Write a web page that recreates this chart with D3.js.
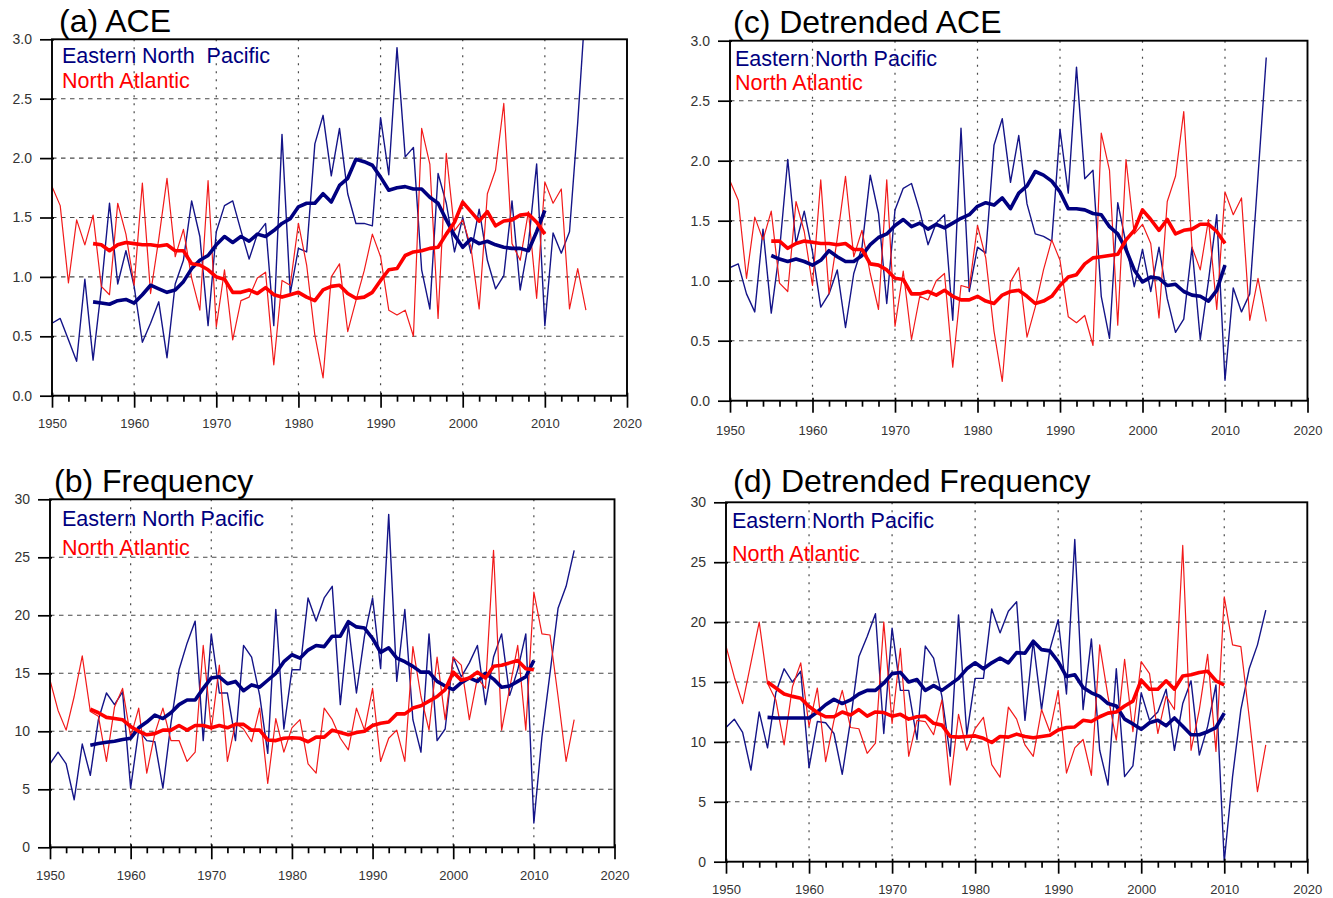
<!DOCTYPE html>
<html><head><meta charset="utf-8">
<script src="https://cdn.jsdelivr.net/npm/d3@7"></script>
<style>
body{margin:0;background:#fff;}
svg{display:block;font-family:"Liberation Sans",Arial,Helvetica,sans-serif;}
</style></head><body>
<svg id="chart" width="1333" height="898"></svg>
<script>
// ---------------- data ----------------
const years = d3.range(1950, 2016);          // annual series 1950-2015
const smoothYears = d3.range(1955, 2011);    // running mean 1955-2010
const xTickYears = [1950, 1960, 1970, 1980, 1990, 2000, 2010, 2020];
const xMinorYears = d3.range(1950, 2021, 2).filter(d => d % 10 !== 0);
const aceTicks = [0, 0.5, 1.0, 1.5, 2.0, 2.5, 3.0];
const freqTicks = [0, 5, 10, 15, 20, 25, 30];
const seriesNames = ["Eastern North Pacific", "North Atlantic"];

// (a) ACE
const aceEnp = [0.61,0.65,0.47,0.29,0.98, 0.30,0.90,1.62,0.94,1.22, 0.92,0.45,0.61,0.79,0.32, 0.94,1.14,1.64,1.34,0.59,
  1.38,1.60,1.64,1.39,1.15, 1.36,1.45,0.59,2.20,0.86, 1.24,1.21,2.12,2.36,1.85, 2.25,1.70,1.45,1.45,1.43,
  2.34,1.86,2.93,2.01,2.09, 1.06,0.73,1.87,1.62,1.21, 1.50,1.20,1.57,1.14,0.90, 1.01,1.64,0.89,1.28,1.95,
  0.59,1.37,1.20,1.38,2.30, 3.35];
const aceEnpSmooth = [0.79,0.78,0.77,0.80,0.81, 0.78,0.85,0.93,0.90,0.87, 0.89,0.96,1.07,1.14,1.18,
  1.27,1.34,1.29,1.34,1.30, 1.36,1.34,1.39,1.45,1.49, 1.59,1.62,1.62,1.70,1.63,
  1.77,1.83,1.99,1.97,1.94, 1.84,1.73,1.75,1.76,1.74, 1.74,1.67,1.62,1.48,1.35,
  1.25,1.32,1.28,1.30,1.27, 1.25,1.24,1.24,1.22,1.38, 1.56];
const aceNa = [1.76,1.60,0.95,1.48,1.27, 1.52,0.92,0.85,1.62,1.36, 0.93,1.79,0.86,1.32,1.83, 1.17,1.40,0.99,0.72,1.81,
  0.58,1.06,0.47,0.80,0.83, 0.99,1.04,0.26,0.97,0.93, 1.45,1.10,0.51,0.15,1.00, 1.11,0.54,0.80,1.05,1.36,
  1.17,0.72,0.68,0.72,0.50, 2.25,1.95,0.65,2.04,1.39, 1.48,1.25,0.73,1.70,1.90, 2.46,1.28,1.14,1.55,0.82,
  1.80,1.62,1.74,0.73,1.07, 0.72];
const aceNaSmooth = [1.28,1.27,1.22,1.27,1.29, 1.28,1.27,1.27,1.26,1.27, 1.22,1.22,1.11,1.10,1.06,
  1.00,0.98,0.87,0.87,0.89, 0.86,0.91,0.85,0.83,0.85, 0.87,0.83,0.80,0.89,0.92,
  0.93,0.86,0.82,0.83,0.87, 0.97,1.06,1.07,1.18,1.21, 1.22,1.24,1.25,1.36,1.46,
  1.63,1.55,1.47,1.55,1.43, 1.47,1.48,1.52,1.53,1.46, 1.36];

// (b) Frequency
const freqEnp = [7.2,8.2,7.2,4.1,8.9, 6.2,11.0,13.3,12.3,13.4, 5.1,10.1,9.2,9.1,5.1, 10.7,15.3,17.6,19.5,9.2,
  18.4,13.3,13.3,9.2,17.4, 16.4,13.1,8.1,20.5,10.2, 15.3,15.3,21.5,19.5,21.5, 22.5,12.3,19.2,13.3,18.2,
  21.5,15.4,28.7,14.3,20.5, 11.0,8.2,18.4,9.2,10.2, 16.4,14.7,15.9,17.4,12.3, 16.4,18.4,13.1,15.3,18.4,
  2.1,9.5,15.0,20.6,22.5, 25.6];
const freqEnpSmooth = [8.8,8.95,9.05,9.15,9.3, 9.4,10.3,10.8,11.4,11.1, 11.6,12.3,12.7,12.7,13.7,
  14.6,14.7,14.1,14.3,13.5, 14.0,13.8,14.4,15.0,16.0, 16.6,16.3,17.0,17.4,17.3,
  18.2,18.2,19.45,19.0,18.9, 18.0,16.8,17.2,16.3,16.0, 15.6,15.1,15.1,14.3,13.9,
  13.6,14.2,14.6,14.3,15.0, 14.5,13.8,13.9,14.3,14.7, 16.1];
const freqNa = [14.4,11.8,10.1,13.0,16.5, 11.7,11.3,7.4,12.1,13.7, 9.5,12.0,6.4,9.8,12.0, 9.2,9.2,7.4,8.2,17.4,
  10.1,15.7,7.4,10.7,10.2, 9.1,12.0,5.5,11.1,8.2, 10.3,11.0,7.2,6.4,12.0, 11.0,9.4,8.4,12.0,10.1,
  13.7,7.4,9.4,10.1,7.4, 17.3,13.0,10.1,16.4,11.0, 16.4,15.7,11.0,14.6,13.7, 25.6,10.1,13.7,17.4,10.1,
  22.0,18.4,18.3,13.0,7.4, 11.0];
const freqNaSmooth = [11.9,11.6,11.2,11.1,11.0, 10.4,10.0,9.7,9.8,10.1, 10.1,10.5,10.1,10.5,10.5,
  10.3,10.5,10.3,10.6,10.6, 10.1,10.1,9.25,9.2,9.4, 9.45,9.4,9.1,9.5,9.5,
  10.1,9.9,9.7,9.9,10.0, 10.5,10.7,10.8,11.5,11.5, 12.0,12.2,12.6,13.0,13.6,
  15.1,14.4,14.6,15.1,14.6, 15.6,15.7,15.9,16.1,15.4, 15.3];

// (c) Detrended ACE
const dAceEnp = [1.11,1.14,0.89,0.74,1.43, 0.73,1.25,2.01,1.31,1.58, 1.24,0.78,0.89,1.09,0.61, 1.06,1.28,1.88,1.56,0.81,
  1.59,1.77,1.81,1.58,1.30, 1.48,1.55,0.67,2.27,0.91, 1.28,1.23,2.13,2.35,1.82, 2.21,1.64,1.39,1.37,1.33,
  2.26,1.73,2.78,1.85,1.92, 0.87,0.52,1.65,1.31,0.95, 1.26,0.91,1.28,0.85,0.57, 0.68,1.28,0.51,1.00,1.55,
  0.17,0.94,0.74,0.89,1.87, 2.86];
const dAceEnpSmooth = [1.21,1.18,1.16,1.18,1.16, 1.13,1.17,1.25,1.20,1.16, 1.16,1.21,1.30,1.36,1.39,
  1.46,1.51,1.45,1.48,1.43, 1.47,1.44,1.48,1.52,1.55, 1.62,1.65,1.63,1.69,1.60,
  1.73,1.79,1.91,1.88,1.83, 1.74,1.60,1.60,1.59,1.56, 1.55,1.45,1.39,1.26,1.09,
  0.99,1.03,1.02,0.96,0.97, 0.91,0.88,0.87,0.83,0.92, 1.13];
const dAceNa = [1.83,1.67,1.02,1.53,1.34, 1.58,0.98,0.91,1.66,1.41, 0.96,1.84,0.89,1.35,1.87, 1.20,1.42,1.06,0.76,1.84,
  0.62,1.08,0.51,0.87,0.84, 1.00,1.06,0.28,0.96,0.94, 1.46,1.19,0.58,0.16,0.99, 1.11,0.53,0.78,1.09,1.34,
  1.17,0.70,0.65,0.71,0.46, 2.23,1.92,0.63,2.01,1.39, 1.47,1.31,0.69,1.66,1.87, 2.41,1.28,1.09,1.51,0.76,
  1.74,1.55,1.69,0.67,1.02, 0.66];
const dAceNaSmooth = [1.33,1.33,1.27,1.31,1.33, 1.32,1.31,1.31,1.30,1.31, 1.26,1.26,1.14,1.13,1.09,
  1.02,1.01,0.89,0.89,0.91, 0.88,0.92,0.87,0.84,0.84, 0.87,0.83,0.81,0.88,0.91,
  0.92,0.87,0.81,0.83,0.87, 0.96,1.03,1.05,1.14,1.19, 1.20,1.21,1.22,1.34,1.42,
  1.59,1.51,1.42,1.51,1.39, 1.42,1.43,1.47,1.47,1.41, 1.31];

// (d) Detrended Frequency
const dFreqEnp = [11.2,11.9,10.8,7.65,12.5, 9.5,14.1,16.1,15.0,15.9, 7.85,11.7,11.6,10.7,7.3, 11.8,17.1,18.8,20.7,10.7,
  19.5,14.3,14.3,10.2,18.0, 17.0,13.8,8.8,20.6,10.6, 15.3,15.3,21.1,19.1,20.9, 21.7,11.8,18.4,12.7,17.7,
  20.2,14.0,26.9,12.7,18.6, 9.3,6.4,16.1,7.1,8.0, 14.1,11.8,12.5,14.4,9.3, 13.2,15.1,8.9,11.3,14.75,
  0.0,7.1,12.7,16.1,18.1, 21.0];
const dFreqEnpSmooth = [12.05,12.0,12.0,12.0,12.0, 12.0,12.5,13.1,13.55,13.2, 13.5,14.0,14.3,14.3,14.9,
  15.7,15.8,15.0,15.2,14.3, 14.7,14.3,14.8,15.3,16.1, 16.6,16.1,16.6,17.0,16.6,
  17.45,17.4,18.4,17.7,17.6, 16.7,15.45,15.6,14.55,14.1, 13.8,13.2,13.0,11.9,11.5,
  11.05,11.6,11.8,11.35,12.0, 11.3,10.6,10.6,10.85,11.2, 12.4];
const dFreqNa = [18.0,15.4,13.2,16.6,20.0, 14.9,13.5,9.75,14.6,16.6, 11.3,14.5,8.35,11.8,14.3, 11.2,11.1,9.05,9.9,20.0,
  11.55,17.8,8.8,11.8,11.7, 10.6,13.5,6.4,12.3,9.3, 11.1,12.05,8.1,7.05,12.9, 11.9,9.75,8.8,12.7,10.85,
  14.3,7.4,9.5,10.2,7.2, 18.1,13.8,10.15,16.9,10.85, 16.7,15.7,10.7,13.8,12.7, 26.4,9.3,12.7,17.3,9.2,
  22.1,18.1,17.95,12.1,5.85, 9.75];
const dFreqNaSmooth = [15.0,14.5,14.0,13.8,13.65, 12.95,12.45,12.1,12.1,12.5, 12.25,12.7,12.15,12.5,12.45,
  12.15,12.3,11.9,12.1,12.15, 11.55,11.4,10.45,10.4,10.45, 10.5,10.3,9.95,10.45,10.4,
  10.65,10.45,10.35,10.45,10.55, 11.0,11.2,11.25,11.8,11.7, 12.1,12.4,12.5,13.0,13.4,
  15.15,14.4,14.4,15.1,14.4, 15.5,15.6,15.8,15.9,15.1, 14.75];

// ---------------- layout ----------------
const ENP_COLOR = "#000080", NA_COLOR = "#ff0000";
const panels = [
  {id:"a", title:"(a) ACE", tx:59, ty:32, l:52, r:627, t:39.3, b:395.7, yMax:3, ticks:aceTicks, fmt:d3.format(".1f"),
   enp:aceEnp, na:aceNa, enpS:aceEnpSmooth, naS:aceNaSmooth, lx:62, ly1:63, ly2:88, enpLabel:"Eastern North  Pacific", lbl:32},
  {id:"c", title:"(c) Detrended ACE", tx:733, ty:33, l:730, r:1307.5, t:40.7, b:400.7, yMax:3, ticks:aceTicks, fmt:d3.format(".1f"),
   enp:dAceEnp, na:dAceNa, enpS:dAceEnpSmooth, naS:dAceNaSmooth, lx:735, ly1:66, ly2:90, enpLabel:seriesNames[0], lbl:34},
  {id:"b", title:"(b) Frequency", tx:54, ty:492, l:50, r:614.5, t:499.3, b:847.3, yMax:30, ticks:freqTicks, fmt:d3.format("d"),
   enp:freqEnp, na:freqNa, enpS:freqEnpSmooth, naS:freqNaSmooth, lx:62, ly1:526, ly2:555, enpLabel:seriesNames[0], lbl:33},
  {id:"d", title:"(d) Detrended Frequency", tx:733, ty:492, l:726, r:1307.3, t:502.3, b:861.7, yMax:30, ticks:freqTicks, fmt:d3.format("d"),
   enp:dFreqEnp, na:dFreqNa, enpS:dFreqEnpSmooth, naS:dFreqNaSmooth, lx:732, ly1:528, ly2:561, enpLabel:seriesNames[0], lbl:32}
];

const svg = d3.select("#chart");

panels.forEach(p => {
  const x = d3.scaleLinear().domain([1950, 2020]).range([p.l, p.r]);
  const y = d3.scaleLinear().domain([0, p.yMax]).range([p.b, p.t]);
  const g = svg.append("g");

  g.append("clipPath").attr("id", "clip-" + p.id)
    .append("rect").attr("x", p.l).attr("y", p.t).attr("width", p.r - p.l).attr("height", p.b - p.t);

  // grid
  g.append("g").selectAll("line").data(xTickYears.slice(1, -1)).join("line")
    .attr("x1", d => x(d)).attr("x2", d => x(d)).attr("y1", p.t).attr("y2", p.b)
    .attr("stroke", "#4a4a4a").attr("stroke-width", 1.2).attr("stroke-dasharray", "2,6");
  g.append("g").selectAll("line").data(p.ticks.slice(1, -1)).join("line")
    .attr("x1", p.l).attr("x2", p.r).attr("y1", d => y(d)).attr("y2", d => y(d))
    .attr("stroke", "#4a4a4a").attr("stroke-width", 1.1).attr("stroke-dasharray", "4.5,4.5");

  // data lines
  const dg = g.append("g").attr("clip-path", `url(#clip-${p.id})`);
  const line = d3.line().x(d => x(d[0])).y(d => y(d[1]));
  const zipA = arr => years.map((yr, i) => [yr, arr[i]]);
  const zipS = arr => smoothYears.map((yr, i) => [yr, arr[i]]);
  dg.append("path").attr("d", line(zipA(p.enp))).attr("fill", "none").attr("stroke", "#141488").attr("stroke-width", 1.4).attr("stroke-linejoin", "round");
  dg.append("path").attr("d", line(zipA(p.na))).attr("fill", "none").attr("stroke", "#f21a1a").attr("stroke-width", 1.2).attr("stroke-linejoin", "round");
  dg.append("path").attr("d", line(zipS(p.enpS))).attr("fill", "none").attr("stroke", ENP_COLOR).attr("stroke-width", 3.6).attr("stroke-linejoin", "round");
  dg.append("path").attr("d", line(zipS(p.naS))).attr("fill", "none").attr("stroke", NA_COLOR).attr("stroke-width", 3.6).attr("stroke-linejoin", "round");

  // axes
  const xAxis = d3.axisBottom(x).tickValues(xTickYears).tickSize(12).tickPadding(p.lbl - 12 - 9.2).tickFormat(d3.format("d"));
  const xMinor = d3.axisBottom(x).tickValues(xMinorYears).tickSize(6).tickFormat("");
  const yAxis = d3.axisLeft(y).tickValues(p.ticks).tickSize(12).tickPadding(8).tickFormat(p.fmt);
  const ax = g.append("g").attr("transform", `translate(0,${p.b})`).call(xAxis);
  const axm = g.append("g").attr("transform", `translate(0,${p.b})`).call(xMinor);
  const ay = g.append("g").attr("transform", `translate(${p.l},0)`).call(yAxis);
  [ax, axm, ay].forEach(a => {
    a.select(".domain").remove();
    a.selectAll(".tick line").attr("stroke", "#000").attr("stroke-width", 1.7);
    a.selectAll("text").attr("fill", "#333").attr("font-family", '"Liberation Sans",Arial,sans-serif');
  });
  ax.selectAll(".tick line").attr("y1", -3);
  ay.selectAll(".tick line").attr("x1", 2);
  ax.selectAll("text").attr("font-size", 13);
  ay.selectAll("text").attr("font-size", 14);

  // frame
  g.append("rect").attr("x", p.l).attr("y", p.t).attr("width", p.r - p.l).attr("height", p.b - p.t)
    .attr("fill", "none").attr("stroke", "#000").attr("stroke-width", 1.9);

  // legend text
  g.append("text").attr("x", p.lx).attr("y", p.ly1).attr("font-size", 21.5).attr("fill", ENP_COLOR)
    .style("white-space", "pre").text(p.enpLabel);
  g.append("text").attr("x", p.lx).attr("y", p.ly2).attr("font-size", 21.5).attr("fill", NA_COLOR)
    .text(seriesNames[1]);

  // title
  g.append("text").attr("x", p.tx).attr("y", p.ty).attr("font-size", 32).attr("fill", "#000").text(p.title);
});
</script>
</body></html>
